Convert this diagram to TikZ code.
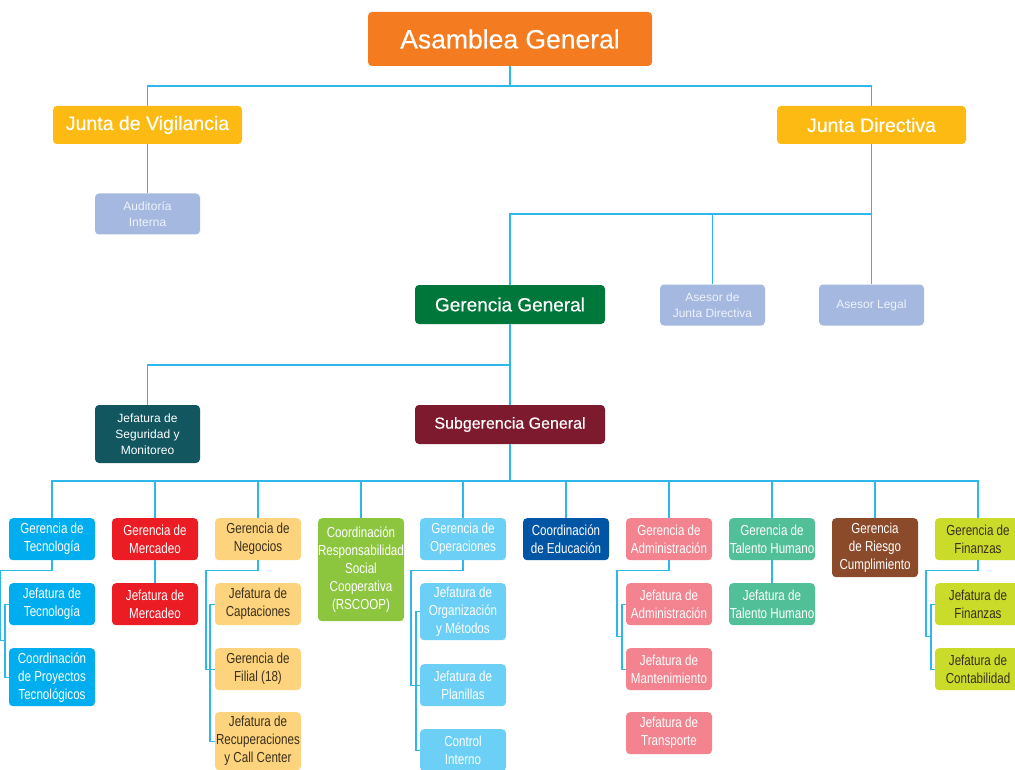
\documentclass[tikz,border=0pt]{standalone}
\usepackage{fontspec}
\setmainfont{Liberation Sans}
\newfontfamily\headfont[FakeBold=0.4]{Liberation Sans}
\newfontfamily\narrowfont[FakeStretch=0.8]{Liberation Sans}
\usetikzlibrary{calc}

\definecolor{linkblue}{HTML}{2DB7EA}
\definecolor{asamblea}{HTML}{F47B20}
\definecolor{junta}{HTML}{FCBA12}
\definecolor{advisor}{HTML}{A4B8E0}
\definecolor{advisortext}{HTML}{EEF3FB}
\definecolor{gerencia}{HTML}{00773A}
\definecolor{seguridad}{HTML}{125760}
\definecolor{subgerencia}{HTML}{7E1A2E}
\definecolor{tecnologia}{HTML}{00ADEF}
\definecolor{mercadeo}{HTML}{EC1C24}
\definecolor{negocios}{HTML}{FDD47D}
\definecolor{rscoop}{HTML}{8CC63F}
\definecolor{operaciones}{HTML}{6CCFF6}
\definecolor{educacion}{HTML}{0055A5}
\definecolor{administracion}{HTML}{F2838F}
\definecolor{talento}{HTML}{51BF98}
\definecolor{riesgo}{HTML}{8B4A2A}
\definecolor{finanzas}{HTML}{CBDB2A}
\definecolor{darktext}{HTML}{3A2E1C}

\tikzset{
  link/.style={draw=linkblue, line width=1.4pt},
  box/.style={rounded corners=4pt, align=center, inner sep=0pt, text=white},
  head/.style={box, minimum width=189pt, minimum height=38pt, fill=junta, font=\headfont\fontsize{19.5}{23}\selectfont},
  mgmt/.style={box, minimum width=190pt, minimum height=39pt},
  advisor/.style={box, fill=advisor, text=advisortext, minimum width=105pt, minimum height=41pt, font=\fontsize{12}{16}\selectfont},
  unit/.style={box, anchor=north, minimum width=86pt, minimum height=42pt, font=\narrowfont\fontsize{14.5}{18}\selectfont},
}

\begin{document}
\begin{tikzpicture}[x=1pt,y=-1pt]
\useasboundingbox (0,0) rectangle (1015,770);

% top levels
\node[box, fill=asamblea, minimum width=284pt, minimum height=54pt, font=\headfont\fontsize{26.5}{30}\selectfont] (asamblea) at (510,39) {Asamblea General};
\node[head] (vigilancia) at (147.5,125) {Junta de Vigilancia};
\node[head] (directiva) at (871.5,125) {Junta Directiva};
\node[advisor] (auditoria) at (147.5,214) {Auditoría\\Interna};
\node[advisor] (asesorJD) at (712.5,305) {Asesor de\\Junta Directiva};
\node[advisor] (asesorLegal) at (871.5,305) {Asesor Legal};
\node[mgmt, fill=gerencia, font=\headfont\fontsize{19}{22}\selectfont] (gerGeneral) at (510,304.5) {Gerencia General};
\node[box, fill=seguridad, minimum width=105pt, minimum height=58pt, font=\fontsize{12}{16}\selectfont] (seguridad) at (147.5,434) {Jefatura de\\Seguridad y\\Monitoreo};
\node[mgmt, fill=subgerencia, font=\headfont\fontsize{16}{19}\selectfont] (subgerencia) at (510,424.5) {Subgerencia General};

\coordinate (topBus) at (510,86);
\coordinate (jdBus) at (871.5,214);
\coordinate (ggBus) at (510,365);
\coordinate (sgBus) at (510,481);

% gerencias
\node[unit, fill=tecnologia] (gTec) at (52,518) {Gerencia de\\Tecnología};
\node[unit, fill=mercadeo] (gMer) at (155,518) {Gerencia de\\Mercadeo};
\node[unit, fill=negocios, text=darktext] (gNeg) at (258,518) {Gerencia de\\Negocios};
\node[unit, fill=rscoop, minimum height=103pt] (cRsc) at (361,518) {Coordinación\\Responsabilidad\\Social\\Cooperativa\\(RSCOOP)};
\node[unit, fill=operaciones] (gOpe) at (463,518) {Gerencia de\\Operaciones};
\node[unit, fill=educacion] (cEdu) at (566,518) {Coordinación\\de Educación};
\node[unit, fill=administracion] (gAdm) at (669,518) {Gerencia de\\Administración};
\node[unit, fill=talento] (gTal) at (772,518) {Gerencia de\\Talento Humano};
\node[unit, fill=riesgo, minimum height=59pt] (gRie) at (875,518) {Gerencia\\de Riesgo\\Cumplimiento};
\node[unit, fill=finanzas, text=darktext] (gFin) at (978,518) {Gerencia de\\Finanzas};

% jefaturas
\node[unit, fill=tecnologia] (jTec) at (52,583) {Jefatura de\\Tecnología};
\node[unit, fill=tecnologia, minimum height=58pt] (cPro) at (52,648) {Coordinación\\de Proyectos\\Tecnológicos};
\node[unit, fill=mercadeo] (jMer) at (155,583) {Jefatura de\\Mercadeo};
\node[unit, fill=negocios, text=darktext] (jCap) at (258,583) {Jefatura de\\Captaciones};
\node[unit, fill=negocios, text=darktext] (gFil) at (258,648) {Gerencia de\\Filial (18)};
\node[unit, fill=negocios, text=darktext, minimum height=58pt] (jRec) at (258,712) {Jefatura de\\Recuperaciones\\y Call Center};
\node[unit, fill=operaciones, minimum height=57pt] (jOrg) at (463,583) {Jefatura de\\Organización\\y Métodos};
\node[unit, fill=operaciones] (jPla) at (463,664) {Jefatura de\\Planillas};
\node[unit, fill=operaciones] (cInt) at (463,729) {Control\\Interno};
\node[unit, fill=administracion] (jAdm) at (669,583) {Jefatura de\\Administración};
\node[unit, fill=administracion] (jMan) at (669,648) {Jefatura de\\Mantenimiento};
\node[unit, fill=administracion] (jTra) at (669,712) {Jefatura de\\Transporte};
\node[unit, fill=talento] (jTal) at (772,583) {Jefatura de\\Talento Humano};
\node[unit, fill=finanzas, text=darktext] (jFin) at (978,583) {Jefatura de\\Finanzas};
\node[unit, fill=finanzas, text=darktext] (jCon) at (978,648) {Jefatura de\\Contabilidad};

% links
\draw[link] (asamblea.south) -- (topBus);
\draw[link] (vigilancia.north) |- (topBus) -| (directiva.north);
\draw[link] (vigilancia.south) -- (auditoria.north);
\draw[link] (directiva.south) -- (asesorLegal.north);
\draw[link] (gerGeneral.north) |- (jdBus);
\draw[link] (asesorJD.north) -- (asesorJD.north |- jdBus);
\draw[link] (gerGeneral.south) -- (subgerencia.north);
\draw[link] (seguridad.north) |- (ggBus);
\draw[link] (subgerencia.south) -- (sgBus);
\foreach \n in {gTec,gMer,gNeg,cRsc,gOpe,cEdu,gAdm,gTal,gRie,gFin}
  \draw[link] (\n.north) |- (sgBus);
\draw[link] (gMer.south) -- (jMer.north);
\draw[link] (gTal.south) -- (jTal.north);

\draw[link] (gTec.south) -- ++(0,10) -| ($(jTec.west)!0.5!(cPro.west)+(-8,0)$) -- ++(4,0);
\draw[link] (jTec.west) -- ++(-4,0) |- (cPro.west);
\draw[link] (gNeg.south) -- ++(0,10) -| ([xshift=-9pt]gFil.west) -- (gFil.west);
\draw[link] (jCap.west) -- ++(-5,0) |- (jRec.west);
\draw[link] (gOpe.south) -- ++(0,10) -| ([xshift=-9pt]jPla.west) -- (jPla.west);
\draw[link] (jOrg.west) -- ++(-4,0) |- (cInt.west);
\draw[link] (gAdm.south) -- ++(0,10) -| ($(jAdm.west)!0.5!(jMan.west)+(-9,0)$) -- ++(4,0);
\draw[link] (jAdm.west) -- ++(-4,0) |- (jMan.west);
\draw[link] (gFin.south) -- ++(0,10) -| ($(jFin.west)!0.5!(jCon.west)+(-9,0)$) -- ++(4,0);
\draw[link] (jFin.west) -- ++(-4,0) |- (jCon.west);
\end{tikzpicture}
\end{document}
